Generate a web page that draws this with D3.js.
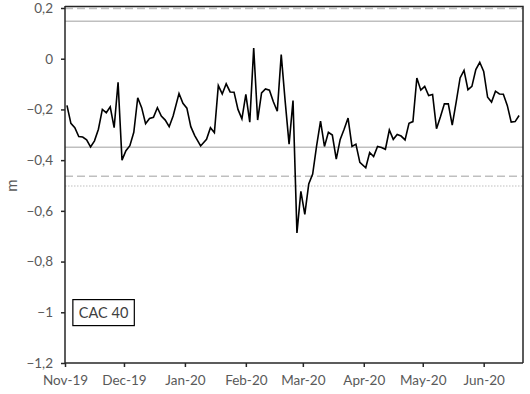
<!DOCTYPE html>
<html>
<head>
<meta charset="utf-8">
<script src="https://cdnjs.cloudflare.com/ajax/libs/d3/7.8.5/d3.min.js"></script>
<style>
  body { margin: 0; background: #fff; }
  text { font-family: Lato, "Open Sans", sans-serif; }
</style>
</head>
<body>
<div id="chart"></div>
<script>
// series data (every second day)
var dates = [
  "2019-11-02","2019-11-04","2019-11-06","2019-11-08","2019-11-10","2019-11-12","2019-11-14","2019-11-16",
  "2019-11-18","2019-11-20","2019-11-22","2019-11-24","2019-11-26","2019-11-28","2019-11-30",
  "2019-12-02","2019-12-04","2019-12-06","2019-12-08","2019-12-10","2019-12-12","2019-12-14","2019-12-16",
  "2019-12-18","2019-12-20","2019-12-22","2019-12-24","2019-12-26","2019-12-29","2019-12-31",
  "2020-01-02","2020-01-04","2020-01-06","2020-01-09","2020-01-12","2020-01-14","2020-01-16","2020-01-18",
  "2020-01-20","2020-01-22","2020-01-24","2020-01-26","2020-01-28","2020-01-30",
  "2020-02-01","2020-02-03","2020-02-05","2020-02-07","2020-02-09","2020-02-11","2020-02-13","2020-02-15",
  "2020-02-17","2020-02-19","2020-02-21","2020-02-23","2020-02-25","2020-02-27","2020-02-29",
  "2020-03-02","2020-03-04","2020-03-06","2020-03-08","2020-03-10","2020-03-12","2020-03-14","2020-03-16",
  "2020-03-18","2020-03-20","2020-03-22","2020-03-24","2020-03-26","2020-03-28","2020-03-30",
  "2020-04-02","2020-04-04","2020-04-06","2020-04-08","2020-04-10","2020-04-12","2020-04-14","2020-04-16",
  "2020-04-18","2020-04-20","2020-04-22","2020-04-24","2020-04-26","2020-04-28","2020-04-30",
  "2020-05-02","2020-05-04","2020-05-06","2020-05-08","2020-05-10","2020-05-12","2020-05-14","2020-05-16",
  "2020-05-18","2020-05-20","2020-05-22","2020-05-24","2020-05-26","2020-05-28","2020-05-30",
  "2020-06-01","2020-06-03","2020-06-05","2020-06-07","2020-06-09","2020-06-11","2020-06-13","2020-06-15",
  "2020-06-17","2020-06-19"
];
var values = [
  -0.184,-0.255,-0.272,-0.307,-0.309,-0.32,-0.348,-0.324,-0.278,-0.2,-0.213,-0.19,-0.272,-0.093,-0.40,
  -0.363,-0.343,-0.29,-0.154,-0.193,-0.256,-0.236,-0.231,-0.193,-0.226,-0.242,-0.268,-0.226,-0.137,-0.176,
  -0.195,-0.268,-0.303,-0.344,-0.318,-0.272,-0.292,-0.106,-0.139,-0.099,-0.131,-0.132,-0.2,-0.237,
  -0.141,-0.25,0.042,-0.242,-0.135,-0.119,-0.124,-0.170,-0.207,0.016,-0.167,-0.337,-0.165,-0.687,-0.523,
  -0.614,-0.494,-0.455,-0.344,-0.246,-0.346,-0.29,-0.301,-0.396,-0.318,-0.278,-0.234,-0.346,-0.337,-0.409,
  -0.430,-0.370,-0.386,-0.346,-0.350,-0.357,-0.281,-0.318,-0.299,-0.305,-0.320,-0.255,-0.248,-0.076,-0.124,
  -0.109,-0.145,-0.141,-0.276,-0.229,-0.178,-0.178,-0.262,-0.171,-0.076,-0.046,-0.122,-0.109,-0.043,-0.014,
  -0.050,-0.152,-0.171,-0.128,-0.139,-0.140,-0.184,-0.250,-0.248,-0.224
];

// horizontal reference lines
var refValues = [0.2, 0.15, -0.347, -0.462, -0.5];
var refStyles = ["dashed", "solid", "solid", "dashed", "dotted"];

// axis ticks
var yTicks = [0.2, 0, -0.2, -0.4, -0.6, -0.8, -1, -1.2];
var xTickDates = ["2019-11-01","2019-12-01","2020-01-01","2020-02-01","2020-03-01","2020-04-01","2020-05-01","2020-06-01"];

var seriesName = "CAC 40";
var yLabel = "m";

var svgWidth = 530;
var svgHeight = 394;
var margin = { top: 8, right: 7, bottom: 31, left: 65 };
var width = svgWidth - margin.left - margin.right;
var height = svgHeight - margin.top - margin.bottom;

var parseDate = d3.timeParse("%Y-%m-%d");
var data = dates.map(function(d, i) {
  return { date: parseDate(d), value: values[i] };
});

var svg = d3.select("#chart")
  .append("svg")
  .attr("width", svgWidth)
  .attr("height", svgHeight);

var chartGroup = svg.append("g")
  .attr("transform", `translate(${margin.left}, ${margin.top})`);

var xScale = d3.scaleTime()
  .domain([parseDate("2019-11-01"), parseDate("2020-06-21")])
  .range([0, width]);

var yScale = d3.scaleLinear()
  .domain([-1.2, 0.2])
  .range([height, 0]);

// reference lines
var dashes = { dashed: "8,4", solid: null, dotted: "1.5,1.5" };
chartGroup.selectAll(".ref")
  .data(refValues)
  .enter()
  .append("line")
  .attr("class", "ref")
  .attr("x1", 0)
  .attr("x2", width)
  .attr("y1", d => yScale(d) + 0.5)
  .attr("y2", d => yScale(d) + 0.5)
  .attr("stroke", "#bfbfbf")
  .attr("stroke-width", (d, i) => refStyles[i] === "dotted" ? 1 : 1.5)
  .attr("stroke-dasharray", (d, i) => dashes[refStyles[i]]);

// plot frame (top and right)
chartGroup.append("path")
  .attr("d", `M0,-1.5H${width}V${height}`)
  .attr("fill", "none")
  .attr("stroke", "#262626")
  .attr("stroke-width", 1.5);

// series line
var line = d3.line()
  .x(d => xScale(d.date))
  .y(d => yScale(d.value));

chartGroup.append("path")
  .datum(data)
  .attr("d", line)
  .attr("fill", "none")
  .attr("stroke", "#000")
  .attr("stroke-width", 1.6)
  .attr("stroke-linejoin", "miter");

// axes
var fmt = function(d) { return d3.format("~g")(+d.toFixed(1)).replace(".", ","); };
var leftAxis = d3.axisLeft(yScale)
  .tickValues(yTicks)
  .tickSize(4)
  .tickPadding(8)
  .tickFormat(fmt);

var bottomAxis = d3.axisBottom(xScale)
  .tickValues(xTickDates.map(parseDate))
  .tickSize(4)
  .tickPadding(8)
  .tickFormat(d3.timeFormat("%b-%y"));

var yAxis = chartGroup.append("g").call(leftAxis);
var xAxis = chartGroup.append("g")
  .attr("transform", `translate(0, ${height})`)
  .call(bottomAxis);

[yAxis, xAxis].forEach(function(ax) {
  ax.select(".domain").attr("stroke", "#262626").attr("stroke-width", 1.5);
  ax.selectAll(".tick line").attr("stroke", "#262626").attr("stroke-width", 1.5);
  ax.selectAll("text")
    .attr("fill", "#595959")
    .style("font-size", "13.5px")
    .style("font-family", "Lato, 'Open Sans', sans-serif");
});
xAxis.select(".domain").attr("d", `M0,0H${width}`);
yAxis.select(".domain").attr("d", `M0,${height}V-2`);

// y axis label
svg.append("text")
  .attr("transform", `translate(17, ${margin.top + yScale(-0.5)}) rotate(-90)`)
  .attr("text-anchor", "middle")
  .attr("fill", "#595959")
  .style("font-size", "15px")
  .text(yLabel);

// series name box
var label = chartGroup.append("g")
  .attr("transform", `translate(${xScale(parseDate("2019-11-05"))}, ${yScale(-0.95)})`);
var labelText = label.append("text")
  .attr("x", 6)
  .attr("y", 18.5)
  .attr("fill", "#404040")
  .style("font-size", "14.5px")
  .text(seriesName);
var bb = labelText.node().getBBox();
label.insert("rect", "text")
  .attr("x", 0)
  .attr("y", 0)
  .attr("width", bb.width + 12)
  .attr("height", 26)
  .attr("fill", "#fff")
  .attr("stroke", "#000")
  .attr("stroke-width", 1.2);
</script>
</body>
</html>
